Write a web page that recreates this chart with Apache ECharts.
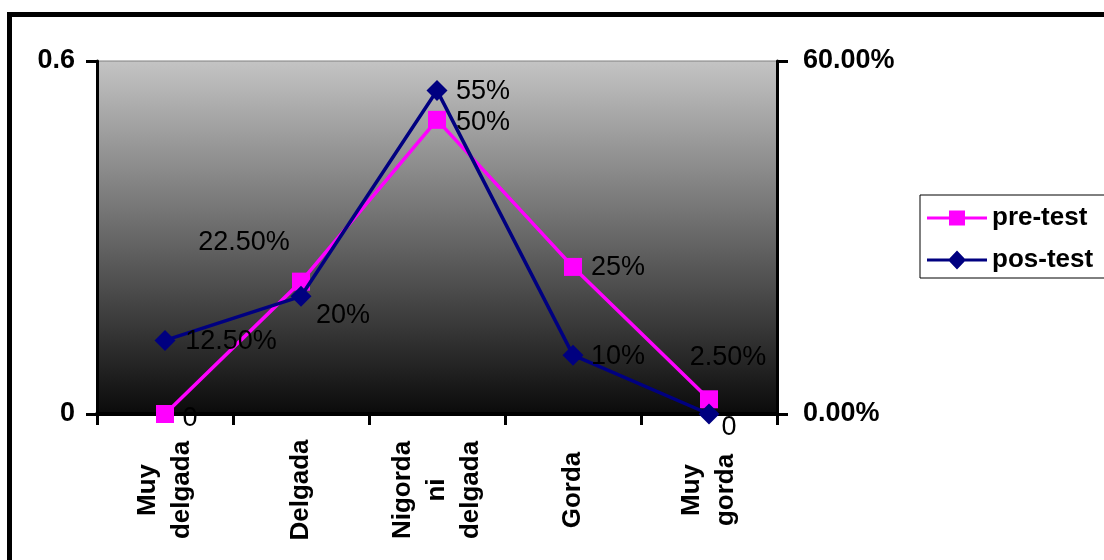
<!DOCTYPE html>
<html>
<head>
<meta charset="utf-8">
<script src="https://cdn.jsdelivr.net/npm/echarts@6/dist/echarts.min.js"></script>
<style>
  html, body { margin: 0; padding: 0; background: #fff; }
  #chart { width: 1104px; height: 560px; }
</style>
</head>
<body>
<div id="chart"></div>
<script>
// Body-image categories (multi-line axis labels)
const categories = ['Muy\ndelgada', 'Delgada', 'Nigorda\nni\ndelgada', 'Gorda', 'Muy\ngorda'];

// Share of respondents per category
const preTest = [0, 0.225, 0.5, 0.25, 0.025];
const posTest = [0.125, 0.2, 0.55, 0.1, 0];

// Decimal places used when printing each point's percentage
const preDecimals = [2, 2, 0, 0, 2];
const posDecimals = [2, 0, 0, 0, 0];

// Axis range
const yMin = 0;
const yMax = 0.6;

// Where each value label sits relative to its marker (px)
const preLabelOffsets = [[25, 5], [-57, -39], [46, 3], [45, 1], [19, -42]];
const posLabelOffsets = [[66, 1], [42, 19], [46, 1], [45, 1], [20, 14]];

// Legend glyphs: a line with the series marker on it (60x20 box)
const preIcon = 'path://M0,8.5H60V11.5H0Z M22,2.5H38V17.5H22Z';
const posIcon = 'path://M0,8.5H60V11.5H0Z M30,0.5L39,10L30,19.5L21,10Z';

const FONT = '"Liberation Sans", Arial, sans-serif';

function pctLabel(v, d) {
  return v === 0 ? '0' : (v * 100).toFixed(d) + '%';
}

function buildData(values, offsets) {
  return values.map((v, i) => ({ value: v, label: { offset: offsets[i] } }));
}

const chart = echarts.init(document.getElementById('chart'), null, { renderer: 'canvas' });

const axisLabelStyle = { color: '#000', fontFamily: FONT, fontWeight: 'bold', fontSize: 27 };

chart.setOption({
  animation: false,
  backgroundColor: '#fff',
  graphic: [{
    type: 'rect',
    silent: true,
    z: 100,
    shape: { x: 9.5, y: 14.5, width: 1200, height: 700 },
    style: { fill: null, stroke: '#000', lineWidth: 5 }
  }],
  grid: {
    left: 97, right: 327, top: 61, bottom: 146,
    outerBoundsMode: 'none',
    containLabel: false,
    show: true,
    borderColor: '#808080',
    borderWidth: 1,
    backgroundColor: {
      type: 'linear', x: 0, y: 0, x2: 0, y2: 1,
      colorStops: [
        { offset: 0, color: '#c4c4c4' },
        { offset: 1, color: '#0a0a0a' }
      ]
    }
  },
  legend: {
    orient: 'vertical',
    left: 920, top: 195,
    padding: [10, 40, 5, 7],
    itemWidth: 60, itemHeight: 20, itemGap: 16,
    borderColor: '#000', borderWidth: 1,
    backgroundColor: '#fff',
    textStyle: { color: '#000', fontFamily: FONT, fontWeight: 'bold', fontSize: 26 },
    data: [
      { name: 'pre-test', icon: preIcon },
      { name: 'pos-test', icon: posIcon }
    ]
  },
  xAxis: {
    type: 'category',
    data: categories,
    boundaryGap: true,
    axisLine: { show: true, lineStyle: { color: '#000', width: 4 } },
    axisTick: { show: true, inside: false, length: 11, interval: 0, lineStyle: { color: '#000', width: 3 } },
    axisLabel: Object.assign({}, axisLabelStyle, {
      interval: 0, rotate: 90, margin: 76, align: 'center', verticalAlign: 'middle',
      lineHeight: 34, fontSize: 26
    }),
    splitLine: { show: false }
  },
  yAxis: [{
    type: 'value', position: 'left',
    min: yMin, max: yMax, interval: yMax - yMin,
    axisLine: { show: true, lineStyle: { color: '#000', width: 3 } },
    axisTick: { show: true, length: 11, lineStyle: { color: '#000', width: 3 } },
    axisLabel: Object.assign({}, axisLabelStyle, {
      margin: 22,
      formatter: v => (v === 0 ? '0' : String(Math.round(v * 10) / 10))
    }),
    splitLine: { show: false }
  }, {
    type: 'value', position: 'right',
    min: yMin, max: yMax, interval: yMax - yMin,
    axisLine: { show: true, lineStyle: { color: '#000', width: 3 } },
    axisTick: { show: true, length: 11, lineStyle: { color: '#000', width: 3 } },
    axisLabel: Object.assign({}, axisLabelStyle, {
      margin: 26,
      formatter: v => (v * 100).toFixed(2) + '%'
    }),
    splitLine: { show: false }
  }],
  series: [{
    name: 'pre-test',
    type: 'line',
    z: 3,
    data: buildData(preTest, preLabelOffsets),
    symbol: 'rect', symbolSize: 18,
    clip: false,
    color: '#ff00ff',
    lineStyle: { color: '#ff00ff', width: 3.5 },
    itemStyle: { color: '#ff00ff' },
    label: {
      show: true, position: 'inside',
      color: '#000', fontFamily: FONT, fontSize: 27,
      formatter: p => pctLabel(p.value, preDecimals[p.dataIndex])
    }
  }, {
    name: 'pos-test',
    type: 'line',
    z: 4,
    data: buildData(posTest, posLabelOffsets),
    symbol: 'diamond', symbolSize: 21,
    clip: false,
    color: '#000080',
    lineStyle: { color: '#000080', width: 3.5 },
    itemStyle: { color: '#000080' },
    label: {
      show: true, position: 'inside',
      color: '#000', fontFamily: FONT, fontSize: 27,
      formatter: p => pctLabel(p.value, posDecimals[p.dataIndex])
    }
  }]
});
</script>
</body>
</html>
